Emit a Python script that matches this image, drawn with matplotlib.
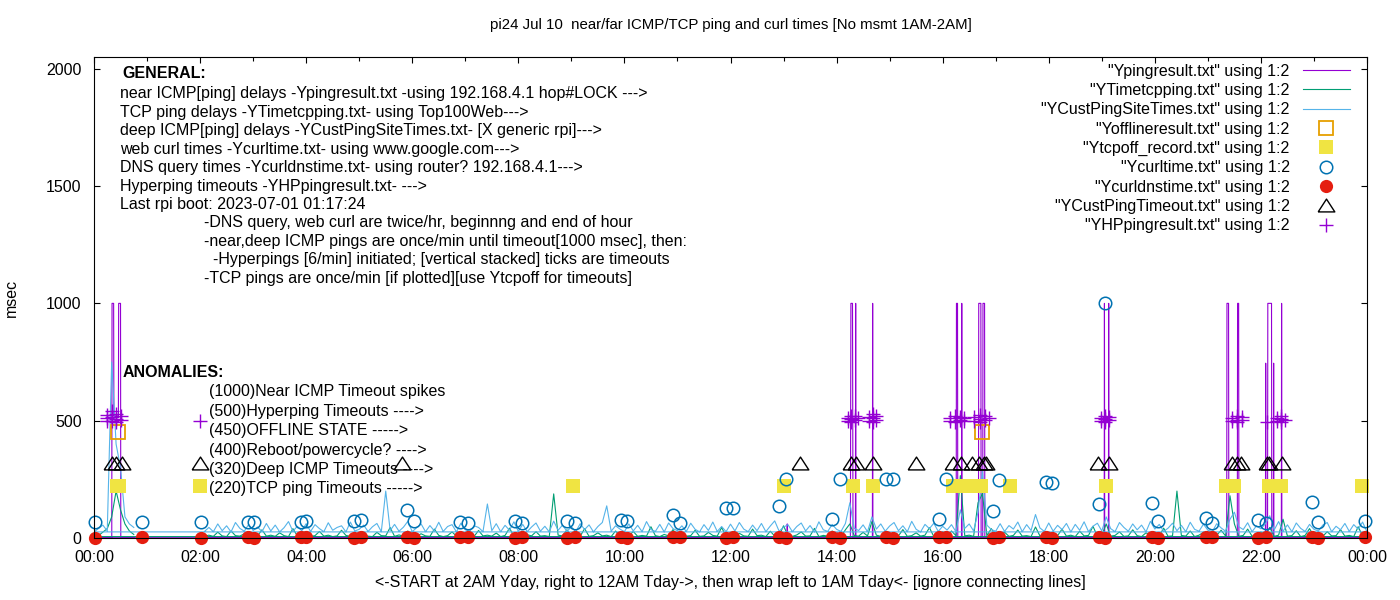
import numpy as np
import matplotlib
matplotlib.use('Agg')
import matplotlib.pyplot as plt
from matplotlib.ticker import MultipleLocator

plt.rcParams['font.family'] = ['Liberation Sans', 'DejaVu Sans']
plt.rcParams['font.size'] = 11.5

# ---- data -------------------------------------------------------------
# ping / tcp series are sampled every 5 min: 02:05 -> 24:00, then 00:00 -> 00:45 (wrap)
main_hours = 2 + np.arange(1, 265) / 12
early_hours = np.arange(0, 10) / 12

# deep ICMP (YCustPingSiteTimes), one row per hour 02..23
deep_main = [
    28, 45, 27, 60, 31, 52, 26, 66, 41, 29, 58, 32,
    47, 27, 62, 30, 55, 26, 44, 70, 29, 50, 31, 61,
    28, 57, 40, 27, 65, 33, 45, 52, 26, 68, 30, 37,
    55, 28, 48, 62, 27, 200, 32, 58, 29, 46, 71, 27,
    44, 60, 27, 53, 30, 67, 28, 49, 57, 26, 63, 35,
    29, 52, 45, 27, 145, 31, 61, 27, 54, 33, 69, 28,
    58, 27, 47, 64, 29, 50, 26, 72, 33, 55, 28, 48,
    27, 61, 36, 56, 26, 49, 66, 137, 29, 52, 38, 27,
    60, 30, 54, 27, 70, 36, 28, 58, 26, 64, 40, 31,
    52, 28, 63, 37, 26, 57, 32, 68, 28, 49, 27, 59,
    30, 66, 38, 27, 55, 31, 62, 27, 51, 73, 29, 46,
    57, 27, 49, 64, 30, 53, 26, 69, 35, 28, 58, 37,
    28, 62, 150, 41, 32, 56, 27, 90, 38, 60, 29, 51,
    66, 31, 52, 27, 71, 37, 26, 58, 40, 63, 28, 50,
    34, 57, 27, 120, 41, 60, 30, 110, 285, 55, 36, 29,
    61, 28, 53, 38, 68, 27, 57, 32, 100, 43, 28, 64,
    29, 54, 36, 62, 26, 58, 33, 69, 27, 50, 63, 30,
    90, 40, 27, 66, 45, 29, 60, 35, 55, 26, 71, 38,
    58, 28, 42, 63, 31, 54, 27, 67, 37, 29, 59, 33,
    27, 61, 43, 29, 80, 110, 48, 36, 65, 27, 52, 39,
    60, 95, 34, 70, 29, 56, 27, 64, 41, 28, 58, 37,
    30, 55, 66, 27, 50, 35, 62, 28, 57, 38, 68, 26,
]
deep_early = [26, 40, 55, 30, 750, 400, 300, 90, 60, 45]

# TCP ping (YTimetcpping)
tcp_main = [
    8, 12, 7, 25, 9, 6, 30, 10, 8, 18, 7, 11,
    9, 35, 8, 12, 7, 22, 10, 6, 40, 9, 14, 8,
    7, 10, 28, 8, 12, 6, 9, 33, 11, 7, 20, 9,
    12, 8, 6, 24, 10, 9, 45, 7, 13, 8, 30, 10,
    8, 18, 9, 7, 38, 11, 6, 10, 26, 8, 12, 7,
    10, 7, 32, 9, 12, 8, 21, 6, 11, 42, 8, 9,
    7, 14, 9, 27, 8, 10, 6, 188, 12, 9, 35, 8,
    11, 8, 40, 7, 10, 22, 9, 12, 6, 30, 8, 10,
    9, 28, 7, 11, 8, 48, 10, 6, 15, 9, 36, 7,
    12, 8, 10, 33, 7, 9, 24, 11, 8, 45, 6, 10,
    8, 20, 9, 7, 38, 10, 12, 6, 29, 8, 11, 52,
    10, 7, 13, 26, 8, 9, 41, 6, 11, 8, 30, 9,
    7, 35, 60, 10, 8, 24, 9, 70, 12, 7, 28, 8,
    11, 9, 36, 7, 10, 22, 8, 12, 44, 6, 9, 27,
    8, 30, 10, 266, 9, 12, 7, 150, 190, 10, 40, 8,
    9, 25, 7, 11, 34, 8, 10, 6, 47, 9, 12, 21,
    7, 10, 38, 8, 12, 6, 29, 9, 11, 50, 8, 10,
    60, 8, 11, 26, 7, 9, 35, 10, 6, 22, 12, 8,
    10, 42, 7, 9, 200, 11, 8, 30, 6, 12, 25, 9,
    8, 12, 33, 9, 180, 60, 7, 11, 38, 8, 10, 26,
    9, 45, 7, 12, 80, 8, 10, 31, 6, 11, 40, 8,
    12, 7, 27, 9, 10, 36, 8, 11, 6, 48, 9, 6,
]
tcp_early = [6, 10, 25, 40, 90, 200, 120, 60, 30, 15]

# near ICMP (Ypingresult), in file order (02:00 -> 24:00, then 00:00 -> 00:45)
near_t = [2.08, 13.06, 13.07, 13.08,
          14.26, 14.27, 14.30, 14.31, 14.355, 14.36, 14.365,
          14.675, 14.68, 14.685,
          16.255, 16.26, 16.28, 16.285, 16.355, 16.36, 16.365,
          16.675, 16.68, 16.72, 16.725, 16.755, 16.76, 16.79, 16.795,
          19.045, 19.05, 19.055, 19.125, 19.13, 19.135,
          21.355, 21.36, 21.39, 21.395, 21.555, 21.56, 21.58, 21.585,
          22.085, 22.09, 22.095, 22.125, 22.13, 22.20, 22.205, 22.235, 22.24, 22.245,
          22.385, 22.39, 22.395, 24.0,
          0.0, 0.335, 0.34, 0.37, 0.375, 0.46, 0.465, 0.50, 0.505, 0.75]
near_v = [3, 3, 60, 3,
          3, 1000, 1000, 3, 3, 1000, 3,
          3, 1000, 3,
          3, 1000, 1000, 3, 3, 1000, 3,
          3, 1000, 1000, 3, 3, 1000, 1000, 3,
          3, 1000, 3, 3, 1000, 3,
          3, 1000, 1000, 3, 3, 1000, 1000, 3,
          3, 745, 3, 3, 1000, 1000, 3, 3, 745, 3,
          3, 1000, 3, 3,
          3, 3, 1000, 1000, 520, 520, 1000, 1000, 3, 3]

# OFFLINE state (Yofflineresult)
offline_t = [0.45, 16.74]
offline_v = [450, 450]

# TCP ping timeouts (Ytcpoff_record)
tcpoff_t = [0.43, 0.48, 1.99, 9.03, 13.01, 14.31, 14.69, 16.2, 16.33, 16.6, 16.73,
            17.27, 19.07, 21.35, 21.49, 22.16, 22.37, 23.9]
tcpoff_v = [220] * len(tcpoff_t)

# web curl times (Ycurltime) and DNS query times (Ycurldnstime)
curl_t = [0.02, 0.91, 2.02, 2.91, 3.02, 3.9, 4.0, 4.91, 5.03, 5.9, 6.04, 6.9, 7.06,
          7.94, 8.06, 8.92, 9.06, 9.94, 10.04, 10.92, 11.04, 11.92, 12.04, 12.92,
          13.04, 13.92, 14.06, 14.94, 15.06, 15.94, 16.06, 16.94, 17.06, 17.94,
          18.06, 18.94, 19.06, 19.94, 20.06, 20.96, 21.08, 21.94, 22.1, 22.96,
          23.08, 23.96]
curl_v = [69, 69, 69, 69, 69, 70, 72, 73, 76, 120, 73, 70, 66, 73, 64, 73, 64, 75,
          73, 99, 64, 129, 129, 137, 253, 82, 253, 253, 253, 82, 253, 116, 249, 240,
          236, 146, 1000, 150, 73, 86, 64, 77, 64, 155, 69, 73]
dns_t = curl_t
dns_v = [2, 3, 2, 4, 1, 3, 5, 2, 4, 3, 2, 5, 3, 1, 4, 2, 3, 5, 2, 3, 4, 2, 3, 5,
         1, 3, 2, 4, 2, 3, 5, 2, 3, 4, 2, 3, 1, 4, 2, 3, 5, 2, 3, 4, 2, 3]

# deep ICMP timeouts (YCustPingTimeout)
timeout_t = [0.33, 0.42, 0.52, 1.99, 5.8, 13.31, 14.28, 14.37, 14.69, 15.5,
             16.2, 16.35, 16.56, 16.68, 16.77, 16.82, 18.92, 19.14,
             21.46, 21.54, 21.62, 22.11, 22.16, 22.4]
timeout_v = [320] * len(timeout_t)

# hyperping timeouts (YHPpingresult)
hp_t = [0.24, 0.24, 0.24, 0.33, 0.33, 0.33, 0.42, 0.42, 0.42, 0.50, 0.50,
        1.99,
        14.22, 14.22, 14.28, 14.28, 14.28, 14.34, 14.34, 14.40,
        14.62, 14.62, 14.68, 14.68, 14.68, 14.74, 14.74,
        16.14, 16.14, 16.24, 16.24, 16.32, 16.32, 16.40, 16.40,
        16.60, 16.60, 16.70, 16.70, 16.70, 16.80, 16.80, 16.88,
        18.98, 18.98, 19.06, 19.06, 19.06, 19.14, 19.14,
        21.46, 21.46, 21.55, 21.55, 21.55, 21.64, 21.64,
        22.12,
        22.30, 22.30, 22.38, 22.38, 22.38, 22.46]
hp_v = [497, 510, 525, 500, 515, 540, 495, 508, 530, 505, 520,
        500,
        498, 512, 495, 508, 522, 502, 518, 510,
        500, 515, 496, 510, 528, 504, 520,
        498, 512, 495, 520, 505, 515, 500, 510,
        500, 515, 495, 508, 525, 503, 518, 510,
        498, 512, 495, 508, 522, 503, 516,
        498, 510, 495, 505, 518, 502, 515,
        495,
        498, 512, 495, 508, 522, 505]

x_ticks = list(range(0, 25, 2))
x_tick_labels = ['%02d:00' % (h % 24) for h in x_ticks]

legend_labels = ['"Ypingresult.txt" using 1:2', '"YTimetcpping.txt" using 1:2',
                 '"YCustPingSiteTimes.txt" using 1:2', '"Yofflineresult.txt" using 1:2',
                 '"Ytcpoff_record.txt" using 1:2', '"Ycurltime.txt" using 1:2',
                 '"Ycurldnstime.txt" using 1:2', '"YCustPingTimeout.txt" using 1:2',
                 '"YHPpingresult.txt" using 1:2']

general_lines = ['near ICMP[ping] delays -Ypingresult.txt -using 192.168.4.1 hop#LOCK --->',
                 'TCP ping delays -YTimetcpping.txt- using Top100Web--->',
                 'deep ICMP[ping] delays -YCustPingSiteTimes.txt- [X generic rpi]--->',
                 'web curl times -Ycurltime.txt- using www.google.com--->',
                 'DNS query times -Ycurldnstime.txt- using router? 192.168.4.1--->',
                 'Hyperping timeouts -YHPpingresult.txt- --->',
                 'Last rpi boot: 2023-07-01 01:17:24']
note_lines = ['-DNS query, web curl are twice/hr, beginnng and end of hour',
              '-near,deep ICMP pings are once/min until timeout[1000 msec], then:',
              '  -Hyperpings [6/min] initiated; [vertical stacked] ticks are timeouts',
              '-TCP pings are once/min [if plotted][use Ytcpoff for timeouts]']
anomaly_lines = ['(1000)Near ICMP Timeout spikes', '(500)Hyperping Timeouts ---->',
                 '(450)OFFLINE STATE ----->', '(400)Reboot/powercycle? ---->',
                 '(320)Deep ICMP Timeouts ---->', '(220)TCP ping Timeouts ----->']

# ---- plot -------------------------------------------------------------
fig = plt.figure(figsize=(14, 6), dpi=100)
ax = fig.add_axes([94 / 1400, 1 - 538 / 600, (1367 - 94) / 1400, (538 - 57) / 600])

tcp_t = np.concatenate([main_hours, early_hours])
deep_t = np.concatenate([main_hours, early_hours])

ax.plot(near_t, near_v, color='#9400D3', lw=0.8)
ax.plot(tcp_t, tcp_main + tcp_early, color='#009E73', lw=0.8)
ax.plot(deep_t, deep_main + deep_early, color='#56B4E9', lw=0.8)
ax.plot(offline_t, offline_v, ls='none', marker='s', mfc='none', mec='#E69F00',
        ms=9.5, mew=1.3, clip_on=False)
ax.plot(tcpoff_t, tcpoff_v, ls='none', marker='s', color='#F0E442', ms=10, mew=0,
        clip_on=False)
ax.plot(curl_t, curl_v, ls='none', marker='o', mfc='none', mec='#0072B2', ms=9,
        mew=1.1, clip_on=False)
ax.plot(dns_t, dns_v, ls='none', marker='o', color='#E51E10', ms=9.5, mew=0,
        clip_on=False)
tri = [(-1, -0.77), (1, -0.77), (0, 0.77), (-1, -0.77)]
ax.plot(timeout_t, timeout_v, ls='none', marker=tri, mfc='none', mec='black',
        ms=12, mew=1, clip_on=False)
ax.plot(hp_t, hp_v, ls='none', marker='+', color='#9400D3', ms=9.5, mew=1,
        clip_on=False)

ax.set_xlim(0, 24)
ax.set_ylim(0, 2050)
ax.set_xticks(x_ticks)
ax.set_xticklabels(x_tick_labels)
ax.xaxis.set_minor_locator(MultipleLocator(1))
ax.set_yticks([0, 500, 1000, 1500, 2000])
ax.tick_params(which='both', direction='in', top=True, right=True, pad=9)
ax.tick_params(which='major', length=4.5, width=0.8)
ax.tick_params(which='minor', length=3, width=0.8)
for s in ax.spines.values():
    s.set_linewidth(0.8)

ax.set_title('pi24 Jul 10  near/far ICMP/TCP ping and curl times [No msmt 1AM-2AM]',
             pad=20, fontsize=10.8)
ax.set_xlabel('<-START at 2AM Yday, right to 12AM Tday->, then wrap left to 1AM Tday<- [ignore connecting lines]')
ax.xaxis.set_label_coords(0.5, -0.077)
ax.set_ylabel('msec')
ax.yaxis.set_label_coords(-0.059, 0.5)

leg = ax.legend(ax.get_lines(), legend_labels, loc='upper right',
                bbox_to_anchor=(0.9866, 0.986), borderaxespad=0, borderpad=0,
                frameon=False, markerfirst=False, handlelength=2.95,
                handletextpad=0.82, labelspacing=0.27)

# annotation block (axes fractions)
ax.text(0.0225, 0.9647, 'GENERAL:', transform=ax.transAxes, va='center', fontweight='bold')
for i, line in enumerate(general_lines):
    ax.text(0.0202, 0.9231 - i * 0.03826, line, transform=ax.transAxes, va='center')
for i, line in enumerate(note_lines):
    ax.text(0.0862, 0.6553 - i * 0.03826, line, transform=ax.transAxes, va='center')
ax.text(0.0225, 0.3437, 'ANOMALIES:', transform=ax.transAxes, va='center', fontweight='bold')
for i, line in enumerate(anomaly_lines):
    ax.text(0.0901, 0.3042 - i * 0.04046, line, transform=ax.transAxes, va='center')

fig.savefig('out.png', dpi=100)
